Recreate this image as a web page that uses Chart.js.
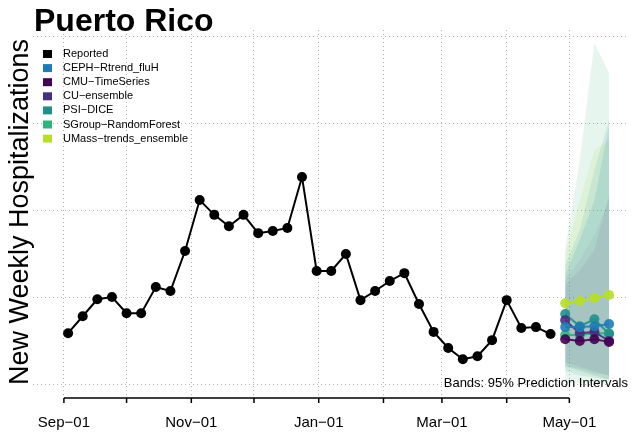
<!DOCTYPE html>
<html>
<head>
<meta charset="utf-8">
<script src="https://cdn.jsdelivr.net/npm/chart.js@4"></script>
<style>
  html, body { margin: 0; padding: 0; background: #fff; }
  #wrap { width: 632px; height: 432px; }
</style>
</head>
<body>
<div id="wrap"><canvas id="chart" width="632" height="432"></canvas></div>
<script>
const reportedDates = [
  "2022-09-03", "2022-09-10", "2022-09-17", "2022-09-24",
  "2022-10-01", "2022-10-08", "2022-10-15", "2022-10-22", "2022-10-29",
  "2022-11-05", "2022-11-12", "2022-11-19", "2022-11-26",
  "2022-12-03", "2022-12-10", "2022-12-17", "2022-12-24", "2022-12-31",
  "2023-01-07", "2023-01-14", "2023-01-21", "2023-01-28",
  "2023-02-04", "2023-02-11", "2023-02-18", "2023-02-25",
  "2023-03-04", "2023-03-11", "2023-03-18", "2023-03-25",
  "2023-04-01", "2023-04-08", "2023-04-15", "2023-04-22"
];
const reportedValues = [
  31.7, 35.6, 39.5, 40.0, 36.3, 36.3, 42.3, 41.4, 50.6, 62.3, 58.9, 56.3,
  58.9, 54.7, 55.2, 55.9, 67.6, 46.0, 46.0, 49.9, 39.3, 41.4, 43.7, 45.5,
  38.4, 32.0, 28.3, 25.7, 26.4, 30.1, 39.3, 32.9, 33.1, 31.5
];

const forecastDates = ["2023-04-29", "2023-05-06", "2023-05-13", "2023-05-20"];

const modelNames = ["CEPH\u2212Rtrend_fluH", "CMU\u2212TimeSeries", "CU\u2212ensemble",
  "PSI\u2212DICE", "SGroup\u2212RandomForest", "UMass\u2212trends_ensemble"];
const modelColors = ["#1f7bb6", "#440154", "#472f7d", "#21908c", "#2fb47c", "#b8de29"];

// medians, then 95% interval bounds, one row per model (same order as modelNames)
const modelMedians = [
  [33.1, 33.1, 33.3, 33.8],
  [30.3, 29.9, 30.3, 29.7],
  [34.7, 31.7, 32.0, 29.9],
  [36.1, 33.3, 34.9, 31.5],
  [31.3, 31.3, 31.7, 31.7],
  [38.6, 39.1, 39.8, 40.5]
];
const modelLower = [
  [24.0, 23.5, 22.5, 22.0],
  [25.0, 24.0, 23.0, 22.0],
  [24.5, 23.0, 22.0, 21.0],
  [23.0, 22.0, 21.5, 21.0],
  [20.2, 20.2, 20.2, 20.2],
  [24.0, 23.0, 22.0, 21.0]
];
const modelUpper = [
  [45.1, 53.1, 62.3, 79.5],
  [42.8, 46.2, 50.8, 63.5],
  [43.9, 48.5, 54.3, 62.3],
  [47.4, 55.4, 69.2, 80.7],
  [50.8, 71.5, 98.4, 91.5],
  [49.7, 62.3, 73.8, 76.1]
];

const monthTicks = ["2022-09-01", "2022-10-01", "2022-11-01", "2022-12-01", "2023-01-01",
  "2023-02-01", "2023-03-01", "2023-04-01", "2023-05-01"];
const monthLabels = ["Sep\u221201", "", "Nov\u221201", "", "Jan\u221201", "", "Mar\u221201", "", "May\u221201"];
const yGrid = [20, 40, 60, 80, 100];

const font = "'Liberation Sans', Arial, sans-serif";

function dayOf(s) {
  const [y, m, d] = s.split("-").map(Number);
  return (Date.UTC(y, m - 1, d) - Date.UTC(2022, 8, 1)) / 86400000;
}

function pts(dates, values) {
  return dates.map((d, i) => ({ x: dayOf(d), y: values[i] }));
}

function withAlpha(hex, a) {
  const n = parseInt(hex.slice(1), 16);
  return `rgba(${n >> 16}, ${(n >> 8) & 255}, ${n & 255}, ${a})`;
}

const datasets = [];

// forecast medians (index 0 drawn on top)
modelNames.forEach((name, i) => {
  datasets.push({
    label: name,
    data: pts(forecastDates, modelMedians[i]),
    borderColor: withAlpha(modelColors[i], 0.9),
    backgroundColor: withAlpha(modelColors[i], 0.9),
    borderWidth: 2,
    pointRadius: 5,
    pointBorderWidth: 0,
    fill: false
  });
});

datasets.push({
  label: "Reported",
  data: pts(reportedDates, reportedValues),
  borderColor: "#000",
  backgroundColor: "#000",
  borderWidth: 2,
  pointRadius: 5,
  pointBorderWidth: 0,
  fill: false
});

// interval bands: upper filled down to the lower one right after it
modelNames.forEach((name, i) => {
  const upperIndex = datasets.length;
  const dark = i === 1 || i === 2;
  datasets.push({
    label: name + " hi",
    data: pts(forecastDates, modelUpper[i]),
    borderWidth: 0,
    pointRadius: 0,
    backgroundColor: withAlpha(modelColors[i], dark ? 0.06 : 0.12),
    fill: upperIndex + 1
  });
  datasets.push({
    label: name + " lo",
    data: pts(forecastDates, modelLower[i]),
    borderWidth: 0,
    pointRadius: 0,
    fill: false
  });
});

const decor = {
  id: "decor",
  afterDraw(chart) {
    const { ctx, chartArea } = chart;
    const x = chart.scales.x;
    ctx.save();

    // axis line with month ticks
    const first = x.getPixelForValue(dayOf(monthTicks[0]));
    const last = x.getPixelForValue(dayOf(monthTicks[monthTicks.length - 1]));
    const yb = chartArea.bottom;
    ctx.strokeStyle = "#000";
    ctx.lineWidth = 1.5;
    ctx.beginPath();
    ctx.moveTo(first, yb);
    ctx.lineTo(last, yb);
    monthTicks.forEach((d) => {
      const px = x.getPixelForValue(dayOf(d));
      ctx.moveTo(px, yb);
      ctx.lineTo(px, yb + 5);
    });
    ctx.stroke();

    // title
    ctx.fillStyle = "#000";
    ctx.textAlign = "left";
    ctx.textBaseline = "alphabetic";
    ctx.font = `bold 32px ${font}`;
    ctx.fillText("Puerto Rico", 34, 31);

    // y title
    ctx.save();
    ctx.translate(28, 212);
    ctx.rotate(-Math.PI / 2);
    ctx.textAlign = "center";
    ctx.font = `27px ${font}`;
    ctx.fillText("New Weekly Hospitalizations", 0, 0);
    ctx.restore();

    // legend
    const names = ["Reported"].concat(modelNames);
    const colors = ["#000"].concat(modelColors);
    ctx.font = `11px ${font}`;
    ctx.textBaseline = "middle";
    names.forEach((n, i) => {
      const cy = 54 + i * 14.1;
      ctx.fillStyle = colors[i];
      ctx.fillRect(43, cy - 4, 9, 8);
      ctx.fillStyle = "#000";
      ctx.fillText(n, 63, cy);
    });

    // note
    ctx.textAlign = "right";
    ctx.textBaseline = "alphabetic";
    ctx.font = `13px ${font}`;
    ctx.fillText("Bands: 95% Prediction Intervals", 628, 387);

    ctx.restore();
  }
};

new Chart(document.getElementById("chart"), {
  type: "line",
  data: { datasets },
  options: {
    responsive: false,
    devicePixelRatio: 1,
    animation: false,
    layout: { padding: { left: 33, right: -8, top: 30, bottom: -16 } },
    plugins: {
      legend: { display: false },
      title: { display: false },
      tooltip: { enabled: false }
    },
    elements: { line: { tension: 0 } },
    scales: {
      x: {
        type: "linear",
        min: -14.8,
        max: 269.6,
        afterBuildTicks: (scale) => {
          scale.ticks = monthTicks.map((d) => ({ value: dayOf(d) }));
        },
        grid: { color: "#b4b4b4", lineWidth: 1, drawTicks: false },
        border: { display: false, dash: [1, 3] },
        ticks: {
          autoSkip: false,
          maxRotation: 0,
          padding: 16,
          color: "#000",
          font: { family: font, size: 15 },
          callback: (v, i) => monthLabels[i]
        }
      },
      y: {
        min: 16.8,
        max: 101.4,
        afterBuildTicks: (scale) => {
          scale.ticks = yGrid.map((v) => ({ value: v }));
        },
        grid: { color: "#b4b4b4", lineWidth: 1, drawTicks: false },
        border: { display: false, dash: [1, 3] },
        ticks: { display: false }
      }
    }
  },
  plugins: [decor]
});
</script>
</body>
</html>
